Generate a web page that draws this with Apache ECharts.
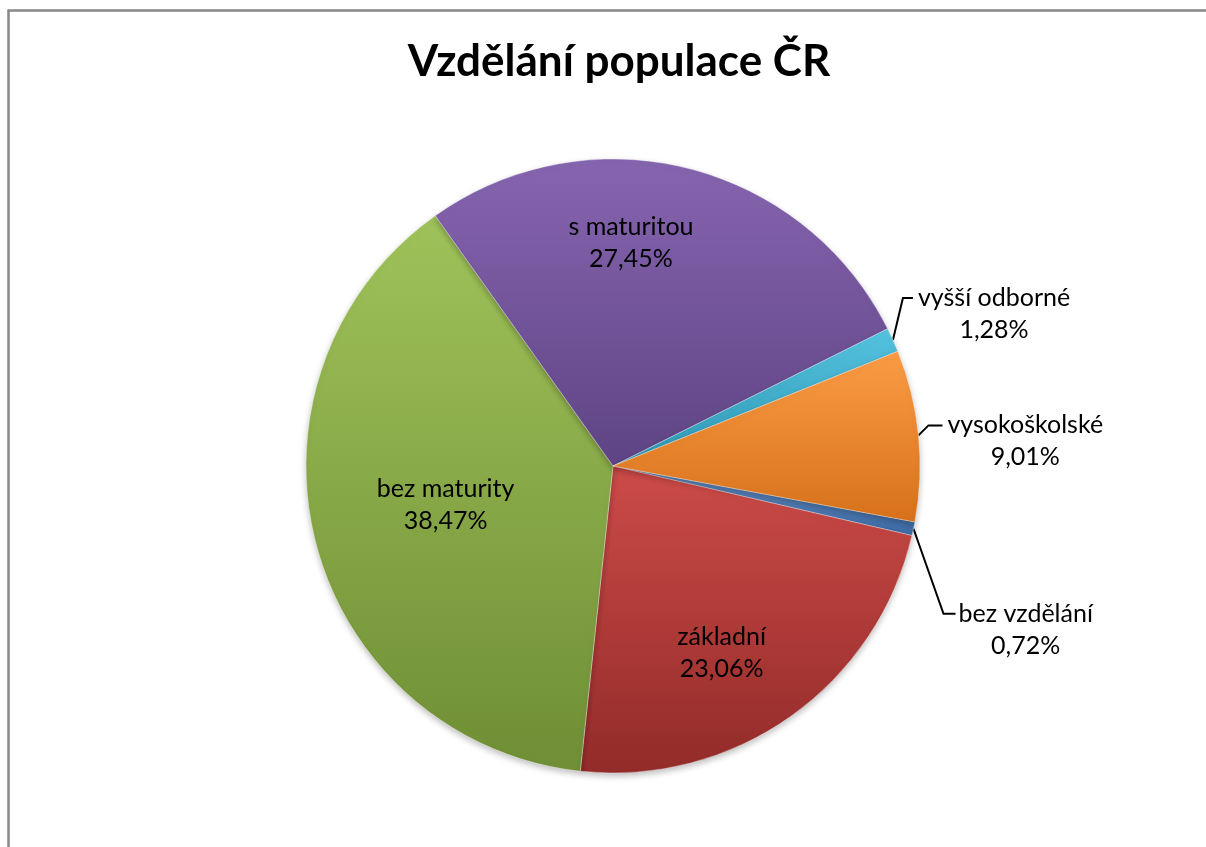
<!DOCTYPE html>
<html><head><meta charset="utf-8">
<script src="https://cdn.jsdelivr.net/npm/echarts@6/dist/echarts.min.js"></script>
<style>html,body{margin:0;padding:0;background:#fff}#c{width:1206px;height:847px}</style>
</head><body><div id="c"></div>
<script>
const chartTitle = 'Vzdělání populace ČR';
const categories = ['bez vzdělání', 'základní', 'bez maturity', 's maturitou', 'vyšší odborné', 'vysokoškolské'];
const values = [0.72, 23.06, 38.47, 27.45, 1.28, 9.01];
const colorsTop = ['#6a96d0', '#cc4b48', '#a0c25a', '#8765b0', '#55c3e0', '#fb9c45'];
const colorsBottom = ['#3c69a3', '#922b29', '#6f8e35', '#5e4484', '#2e97b5', '#d6711a'];
const insideLabel = [false, true, true, true, false, false];

// label layout tweaks (pixels relative to library-computed anchors)
const insideShift = { 1: [18, 59], 2: [-16, -1], 3: [-20, -71] };
const outsideShift = {
  0: { bend: [30, 85], end: [42, 85], label: [45, 85] },
  4: { bend: [10, -42], end: [20, -42], label: [25, -42] },
  5: { bend: [10, -10], end: [24, -10], label: [29, -10] }
};

const fmt = v => v.toFixed(2).replace('.', ',') + '%';
const FONT = 'Lato';
const LABEL_SIZE = 25;
const LH = 32;

const data = categories.map((name, i) => ({
  name,
  value: values[i],
  itemStyle: {
    color: {
      type: 'linear', x: 0, y: 0, x2: 0, y2: 1,
      colorStops: [{ offset: 0, color: colorsTop[i] }, { offset: 1, color: colorsBottom[i] }]
    }
  },
  label: insideLabel[i]
    ? { position: 'inside', padding: 0 }
    : { position: 'outside', padding: [LH, 0, 0, 0] },
  labelLine: { show: !insideLabel[i] }
}));

const chart = echarts.init(document.getElementById('c'), null, { renderer: 'canvas' });
chart.setOption({
  backgroundColor: '#ffffff',
  animation: false,
  title: {
    text: chartTitle,
    left: 614,
    textAlign: 'center',
    top: 35,
    textStyle: { fontFamily: FONT, fontSize: 44, fontWeight: 'bold', color: '#000' }
  },
  graphic: [{
    type: 'rect',
    shape: { x: 8.5, y: 10.5, width: 1240, height: 900 },
    style: { fill: 'none', stroke: '#888888', lineWidth: 2.5 },
    silent: true
  }],
  series: [{
    type: 'pie',
    center: [613, 466],
    radius: 307,
    startAngle: -10.5,
    clockwise: true,
    avoidLabelOverlap: false,
    emphasis: { disabled: true },
    itemStyle: {
      borderColor: 'rgba(255,255,255,0.35)',
      borderWidth: 1,
      shadowColor: 'rgba(0,0,0,0.25)',
      shadowBlur: 6,
      shadowOffsetY: 3
    },
    label: {
      color: '#000',
      fontFamily: FONT,
      fontSize: LABEL_SIZE,
      lineHeight: LH,
      formatter: p => '{n|' + p.name + '}\n{p|' + fmt(p.value) + '}',
      rich: {
        n: { align: 'center', fontFamily: FONT, fontSize: LABEL_SIZE, lineHeight: LH, color: '#000' },
        p: { align: 'center', fontFamily: FONT, fontSize: LABEL_SIZE, lineHeight: LH, color: '#000' }
      }
    },
    labelLine: {
      show: true,
      length: 20,
      length2: 10,
      lineStyle: { color: '#000', width: 2 }
    },
    labelLayout: params => {
      const i = params.dataIndex;
      if (insideShift[i]) {
        const r = params.labelRect;
        return {
          x: r.x + r.width / 2 + insideShift[i][0],
          y: r.y + r.height / 2 + insideShift[i][1]
        };
      }
      const s = outsideShift[i];
      if (s && params.labelLinePoints) {
        const p0 = params.labelLinePoints[0];
        return {
          x: p0[0] + s.label[0],
          y: p0[1] + s.label[1],
          align: 'left',
          verticalAlign: 'middle',
          labelLinePoints: [
            [p0[0], p0[1]],
            [p0[0] + s.bend[0], p0[1] + s.bend[1]],
            [p0[0] + s.end[0], p0[1] + s.end[1]]
          ]
        };
      }
      return {};
    },
    data
  }]
});
</script>
</body></html>
